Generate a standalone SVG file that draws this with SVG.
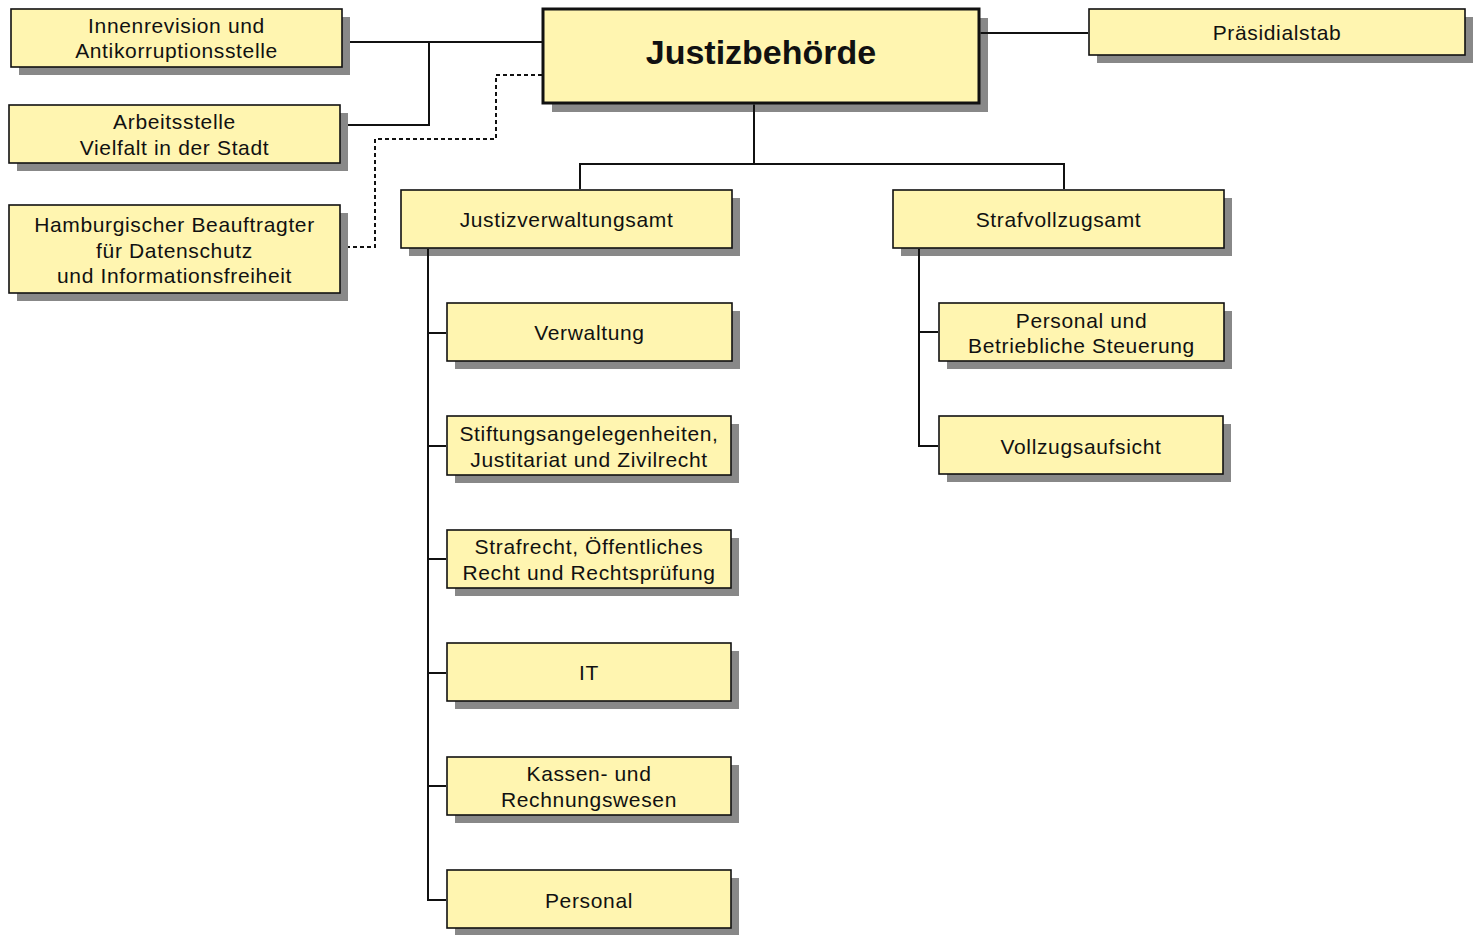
<svg xmlns="http://www.w3.org/2000/svg" width="1477" height="935" viewBox="0 0 1477 935">
<style>
.sh{fill:#888888}
.bx{fill:#FFF5B0;stroke:#111;stroke-width:1.6}
.main{fill:#FFF5B0;stroke:#111;stroke-width:3}
text{font-family:"Liberation Sans",Arial,sans-serif;font-size:21px;fill:#111;text-anchor:middle;letter-spacing:0.65px}
.title{font-size:34px;font-weight:bold;letter-spacing:0}
.ln{fill:none;stroke:#111;stroke-width:2}
.ds{fill:none;stroke:#111;stroke-width:2;stroke-dasharray:4 3}
</style>
<rect width="1477" height="935" fill="#fff"/>
<g id="n-innenrevision"><rect class="sh" x="19" y="17" width="331" height="58"/><rect class="bx" x="11" y="9" width="331" height="58"/><text x="176.5" y="33">Innenrevision und</text><text x="176.5" y="58">Antikorruptionsstelle</text></g>
<g id="n-arbeitsstelle"><rect class="sh" x="17" y="113" width="331" height="58"/><rect class="bx" x="9" y="105" width="331" height="58"/><text x="174.5" y="129">Arbeitsstelle</text><text x="174.5" y="155">Vielfalt in der Stadt</text></g>
<g id="n-datenschutz"><rect class="sh" x="17" y="213" width="331" height="88"/><rect class="bx" x="9" y="205" width="331" height="88"/><text x="174.5" y="232">Hamburgischer Beauftragter</text><text x="174.5" y="258">für Datenschutz</text><text x="174.5" y="283">und Informationsfreiheit</text></g>
<g id="n-justizbehoerde"><rect class="sh" x="552" y="18" width="436" height="94"/><rect class="main" x="543" y="9" width="436" height="94"/><text class="title" x="761" y="64">Justizbehörde</text></g>
<g id="n-praesidialstab"><rect class="sh" x="1097" y="17" width="376" height="46"/><rect class="bx" x="1089" y="9" width="376" height="46"/><text x="1277" y="40">Präsidialstab</text></g>
<g id="n-jva"><rect class="sh" x="409" y="198" width="331" height="58"/><rect class="bx" x="401" y="190" width="331" height="58"/><text x="566.5" y="227">Justizverwaltungsamt</text></g>
<g id="n-sva"><rect class="sh" x="901" y="198" width="331" height="58"/><rect class="bx" x="893" y="190" width="331" height="58"/><text x="1058.5" y="227">Strafvollzugsamt</text></g>
<g id="n-verwaltung"><rect class="sh" x="455" y="311" width="285" height="58"/><rect class="bx" x="447" y="303" width="285" height="58"/><text x="589.5" y="340">Verwaltung</text></g>
<g id="n-stiftung"><rect class="sh" x="455" y="424" width="284" height="59"/><rect class="bx" x="447" y="416" width="284" height="59"/><text x="589" y="441">Stiftungsangelegenheiten,</text><text x="589" y="467">Justitariat und Zivilrecht</text></g>
<g id="n-strafrecht"><rect class="sh" x="455" y="538" width="284" height="58"/><rect class="bx" x="447" y="530" width="284" height="58"/><text x="589" y="554">Strafrecht, Öffentliches</text><text x="589" y="580">Recht und Rechtsprüfung</text></g>
<g id="n-it"><rect class="sh" x="455" y="651" width="284" height="58"/><rect class="bx" x="447" y="643" width="284" height="58"/><text x="589" y="680">IT</text></g>
<g id="n-kassen"><rect class="sh" x="455" y="765" width="284" height="58"/><rect class="bx" x="447" y="757" width="284" height="58"/><text x="589" y="781">Kassen- und</text><text x="589" y="807">Rechnungswesen</text></g>
<g id="n-personal"><rect class="sh" x="455" y="878" width="284" height="57"/><rect class="bx" x="447" y="870" width="284" height="58"/><text x="589" y="908">Personal</text></g>
<g id="n-pbs"><rect class="sh" x="947" y="311" width="285" height="58"/><rect class="bx" x="939" y="303" width="285" height="58"/><text x="1081.5" y="328">Personal und</text><text x="1081.5" y="353">Betriebliche Steuerung</text></g>
<g id="n-vollzug"><rect class="sh" x="947" y="424" width="284" height="58"/><rect class="bx" x="939" y="416" width="284" height="58"/><text x="1081" y="454">Vollzugsaufsicht</text></g>
<g id="connectors">
<path class="ln" d="M350 42H542M429 42V125H348"/>
<path class="ds" d="M542 75H496V139H375V247H348"/>
<path class="ln" d="M754 104.5V164M580 189V164H1064V189"/>
<path class="ln" d="M980.5 33H1088"/>
<path class="ln" d="M428 249V900H446M428 333H446M428 446H446M428 559H446M428 673H446M428 786H446"/>
<path class="ln" d="M919 249V446H938M919 332H938"/>
</g>
</svg>
